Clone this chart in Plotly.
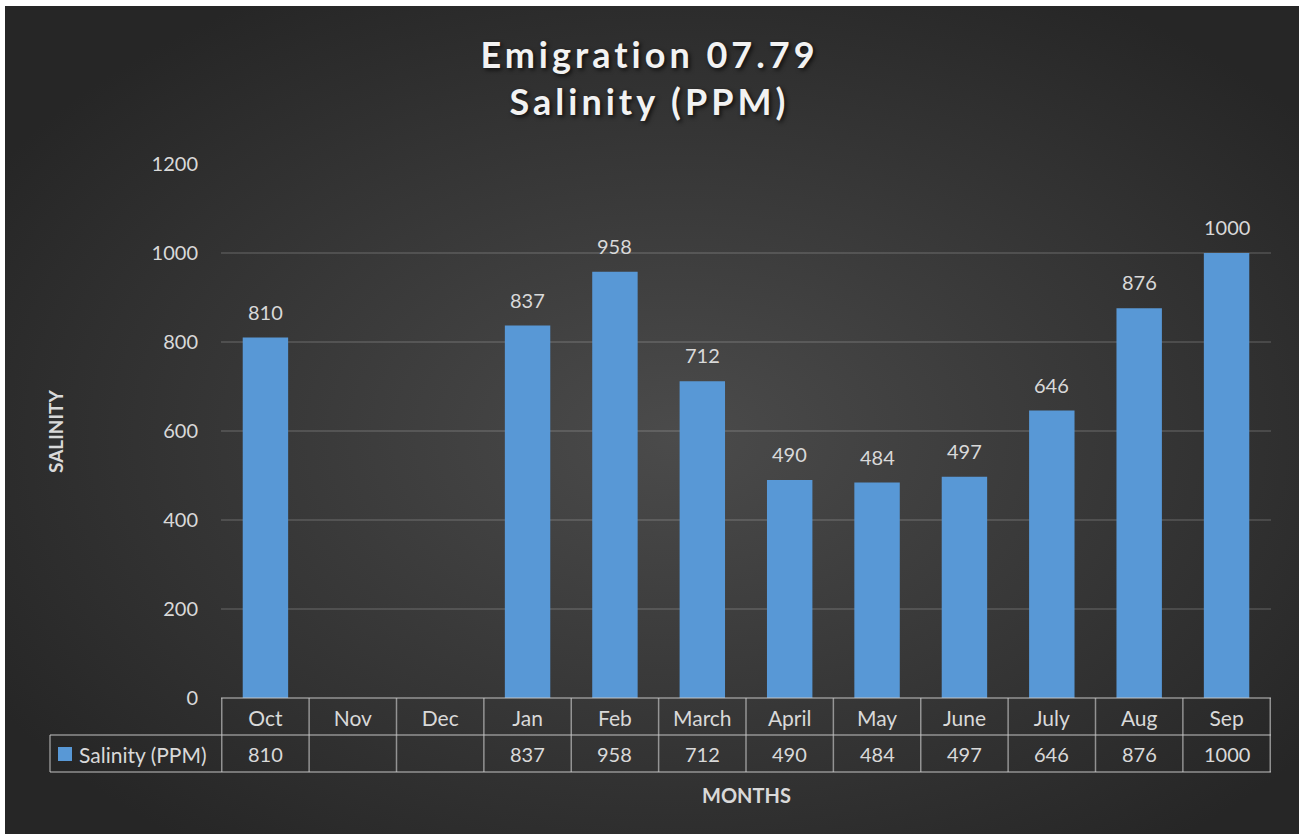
import base64
import plotly.graph_objects as go

months = ["Oct", "Nov", "Dec", "Jan", "Feb", "March", "April", "May", "June", "July", "Aug", "Sep"]
salinity = [810, None, None, 837, 958, 712, 490, 484, 497, 646, 876, 1000]
series_name = "Salinity (PPM)"
y_ticks = [0, 200, 400, 600, 800, 1000, 1200]

W, H = 1299, 834
L, R, T, B = 221, 28, 164, 136
PH = H - T - B
PW = W - L - R

def py(pix):
    return (H - B - pix) / PH

def px(pix):
    return (pix - L) / PW

TXT = "#d9d9d9"
FONT = "Lato"
BAR = "#5898d6"
LINE = "rgba(200,200,200,0.65)"

fig = go.Figure()
fig.add_trace(go.Bar(
    x=months, y=salinity, name=series_name,
    marker=dict(color=BAR, line=dict(width=0)),
    showlegend=False,
))

# background gradient
svg = ('<svg xmlns="http://www.w3.org/2000/svg" width="1294" height="828" viewBox="0 0 1294 828" preserveAspectRatio="none">'
       '<defs><radialGradient id="g" cx="0.52" cy="0.52" r="0.62" gradientUnits="objectBoundingBox">'
       '<stop offset="0" stop-color="#4b4b4b"/><stop offset="1" stop-color="#262626"/></radialGradient></defs>'
       '<rect width="1294" height="828" fill="url(#g)"/></svg>')
src = "data:image/svg+xml;base64," + base64.b64encode(svg.encode()).decode()
fig.add_layout_image(dict(source=src, xref="paper", yref="paper",
                          x=px(5), y=py(6), sizex=(W - 5) / PW, sizey=(H - 6) / PH,
                          xanchor="left", yanchor="top", sizing="stretch", layer="below"))

# data labels
for m, v in zip(months, salinity):
    if v is None:
        continue
    fig.add_annotation(x=m, y=v, xref="x", yref="y", text=str(v), showarrow=False,
                       yshift=26, font=dict(family=FONT, size=20, color=TXT))

# data table
row1, row2, row3 = py(698), py(735), py(772)
n = len(months)
for k in range(n + 1):
    fig.add_shape(type="line", xref="x", yref="paper", x0=k - 0.5, x1=k - 0.5,
                  y0=row1, y1=row3, line=dict(color=LINE, width=1.5))
fig.add_shape(type="line", xref="paper", yref="paper", x0=0, x1=1, y0=row1, y1=row1,
              line=dict(color=LINE, width=1.5))
for yy in (row2, row3):
    fig.add_shape(type="line", xref="paper", yref="paper", x0=px(50), x1=1, y0=yy, y1=yy,
                  line=dict(color=LINE, width=1.5))
fig.add_shape(type="line", xref="paper", yref="paper", x0=px(50), x1=px(50), y0=row2, y1=row3,
              line=dict(color=LINE, width=1.5))
for m, v in zip(months, salinity):
    fig.add_annotation(x=m, y=py(754), xref="x", yref="paper", text="" if v is None else str(v),
                       showarrow=False, xanchor="center", yanchor="middle",
                       font=dict(family=FONT, size=20, color=TXT))
# legend key in table
fig.add_shape(type="rect", xref="paper", yref="paper", x0=px(58), x1=px(72), y0=py(747), y1=py(761),
              fillcolor=BAR, line=dict(width=0))
fig.add_annotation(x=px(77), y=py(754), xref="paper", yref="paper", text=series_name, showarrow=False,
                   xanchor="left", yanchor="middle", font=dict(family=FONT, size=21, color=TXT))

# axis titles
fig.add_annotation(x=px(55), y=py(431), xref="paper", yref="paper", text="<b>SALINITY</b>", textangle=-90,
                   showarrow=False, xanchor="center", yanchor="middle",
                   font=dict(family=FONT, size=19, color=TXT))
fig.add_annotation(x=0.5, y=py(795), xref="paper", yref="paper", text="<b>MONTHS</b>",
                   showarrow=False, xanchor="center", yanchor="middle",
                   font=dict(family=FONT, size=20, color=TXT))

title_text = ('<span style="letter-spacing:4px"><b>Emigration 07.79</b></span><br>'
              '<span style="letter-spacing:4px"><b>Salinity (PPM)</b></span>')
fig.update_layout(
    width=W, height=H,
    margin=dict(l=L, r=R, t=T, b=B, pad=0),
    paper_bgcolor="white", plot_bgcolor="rgba(0,0,0,0)",
    title=dict(text=title_text, x=0.5, xref="container", xanchor="center",
               y=1 - 68 / H, yref="container", yanchor="top",
               font=dict(family=FONT, size=36, color="#f2f2f2", shadow="2px 2px 4px rgba(0,0,0,0.7)")),
    bargap=0.48,
    showlegend=False,
    font=dict(family=FONT, color=TXT),
)
fig.update_xaxes(type="category", categoryorder="array", categoryarray=months,
                 showgrid=False, zeroline=False, showline=False, ticks="",
                 tickfont=dict(family=FONT, size=21, color=TXT), ticklabelstandoff=6)
fig.update_yaxes(range=[0, 1200], tickvals=y_ticks, showgrid=True, gridcolor="rgba(255,255,255,0.13)",
                 gridwidth=1.5, zeroline=False, showline=False, ticks="",
                 tickfont=dict(family=FONT, size=20, color=TXT), ticklabelstandoff=22)

fig.write_html("out.html", config={"displayModeBar": False},
               post_script="document.body.style.margin='0';")
